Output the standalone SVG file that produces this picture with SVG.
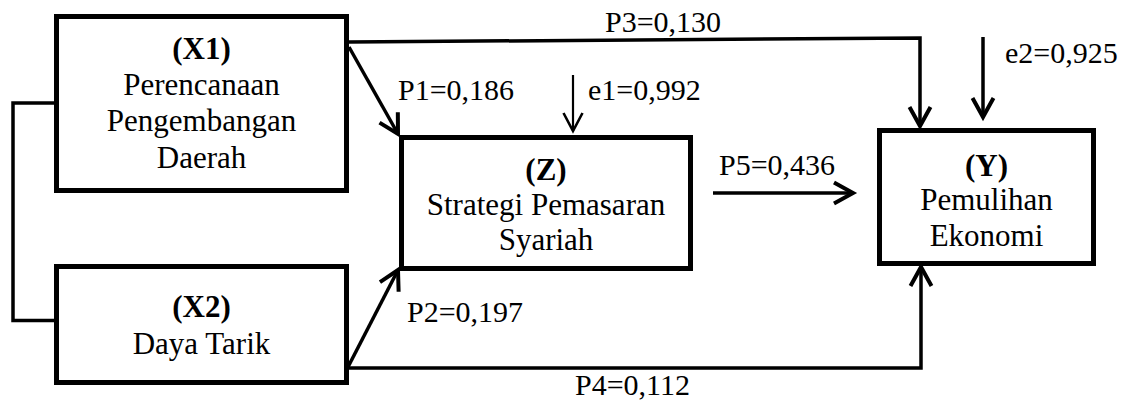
<svg xmlns="http://www.w3.org/2000/svg" width="1132" height="400" viewBox="0 0 1132 400">
  <style>
    .box { fill: #fff; stroke: #000; stroke-width: 5; }
    .t { font-family: 'Liberation Serif', 'DejaVu Serif', serif; font-size: 31px; fill: #000; text-anchor: middle; }
    .b { font-weight: bold; }
    .lbl { font-family: 'Liberation Serif', 'DejaVu Serif', serif; font-size: 30px; fill: #000; }
    .ln { fill: none; stroke: #000; stroke-width: 3.5; stroke-linejoin: miter; }
    .thin { stroke-width: 2.2; }
  </style>
  <defs>
    <marker id="arr" markerUnits="userSpaceOnUse" viewBox="-22 -13 26 26" refX="0" refY="0" markerWidth="26" markerHeight="26" orient="auto" overflow="visible">
      <path d="M-19,-10.5 L0,0 L-19,10.5" fill="none" stroke="#000" stroke-width="4"/>
    </marker>
    <marker id="arrS" markerUnits="userSpaceOnUse" viewBox="-22 -13 26 26" refX="0" refY="0" markerWidth="26" markerHeight="26" orient="auto" overflow="visible">
      <path d="M-18,-9.5 L0,0 L-18,9.5" fill="none" stroke="#000" stroke-width="2.6"/>
    </marker>
  </defs>

  <!-- connectors -->
  <g id="connectors">
    <!-- correlation between X1 and X2 -->
    <path class="ln" d="M54,103 H13 V320.5 H54"/>
    <!-- P1: X1 -> Z -->
    <line class="ln" x1="349" y1="47" x2="398" y2="134" marker-end="url(#arr)"/>
    <!-- P2: X2 -> Z -->
    <line class="ln" x1="348" y1="367" x2="398" y2="270" marker-end="url(#arr)"/>
    <!-- P3: X1 -> Y -->
    <path class="ln" d="M349,42 L920,38 V126" marker-end="url(#arr)"/>
    <!-- P4: X2 -> Y -->
    <path class="ln" d="M349,368 H921 V267" marker-end="url(#arr)"/>
    <!-- P5: Z -> Y -->
    <line class="ln" x1="713" y1="193" x2="853" y2="193" marker-end="url(#arr)"/>
    <!-- residual e1 -->
    <line class="ln thin" x1="573" y1="75" x2="573" y2="131" marker-end="url(#arrS)"/>
    <!-- residual e2 -->
    <line class="ln" x1="983" y1="37" x2="983" y2="117" marker-end="url(#arr)"/>
  </g>

  <g id="labels">
    <text class="lbl" x="605" y="32">P3=0,130</text>
    <text class="lbl" x="398" y="100">P1=0,186</text>
    <text class="lbl" x="588" y="100">e1=0,992</text>
    <text class="lbl" x="1005" y="63">e2=0,925</text>
    <text class="lbl" x="719" y="175">P5=0,436</text>
    <text class="lbl" x="407" y="322">P2=0,197</text>
    <text class="lbl" x="575" y="395">P4=0,112</text>
  </g>

  <g id="X1">
    <rect class="box" x="56.5" y="16.5" width="290" height="174"/>
    <text class="t b" x="201.5" y="59">(X1)</text>
    <text class="t" x="201.5" y="95">Perencanaan</text>
    <text class="t" x="201.5" y="131">Pengembangan</text>
    <text class="t" x="201.5" y="168">Daerah</text>
  </g>

  <g id="X2">
    <rect class="box" x="56.5" y="266.5" width="290" height="116"/>
    <text class="t b" x="201.5" y="317">(X2)</text>
    <text class="t" x="201.5" y="354">Daya Tarik</text>
  </g>

  <g id="Z">
    <rect class="box" x="401.5" y="137.5" width="289" height="131"/>
    <text class="t b" x="546" y="180">(Z)</text>
    <text class="t" x="546" y="215">Strategi Pemasaran</text>
    <text class="t" x="546" y="250">Syariah</text>
  </g>

  <g id="Y">
    <rect class="box" x="879.5" y="130.5" width="214" height="133"/>
    <text class="t b" x="986.5" y="176">(Y)</text>
    <text class="t" x="986.5" y="210">Pemulihan</text>
    <text class="t" x="986.5" y="246">Ekonomi</text>
  </g>
</svg>
